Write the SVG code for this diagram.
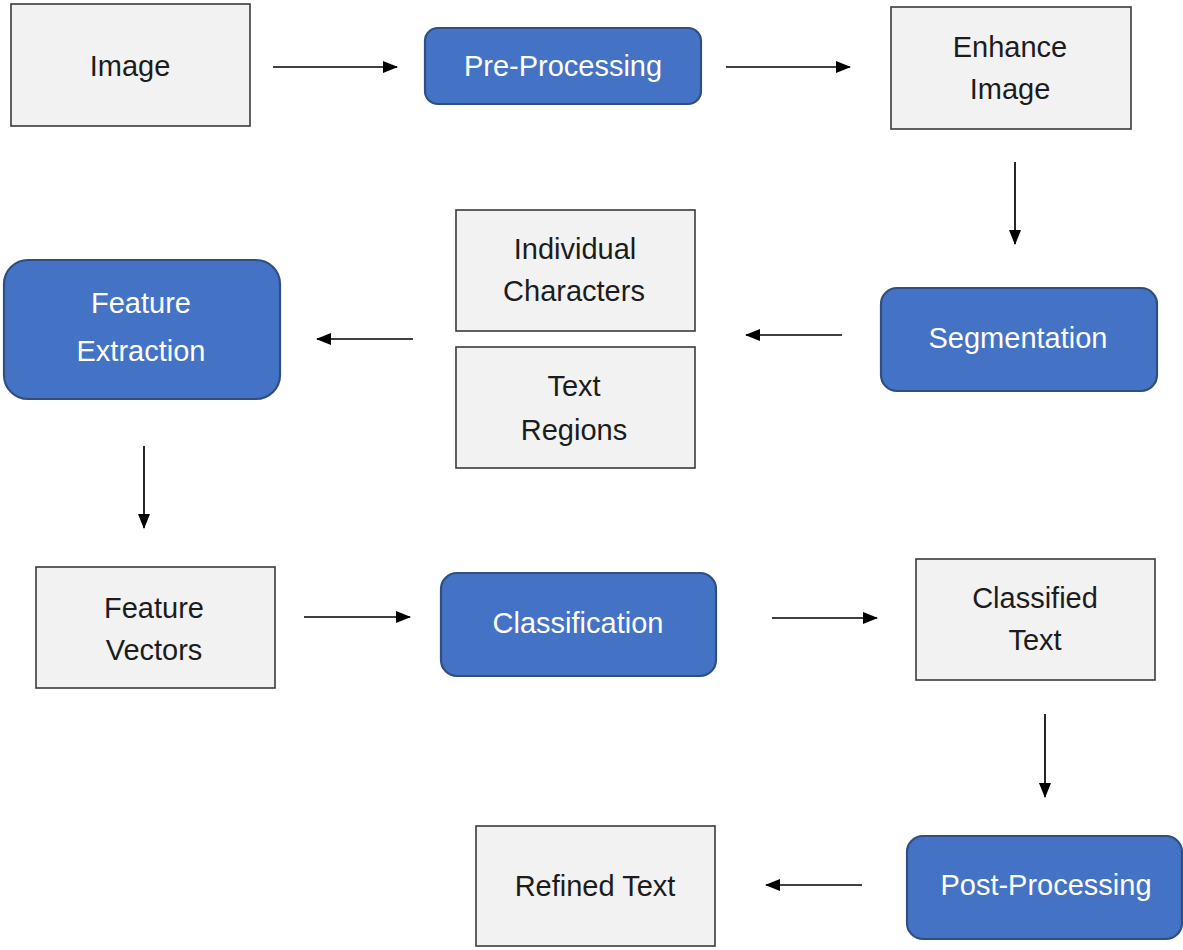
<svg xmlns="http://www.w3.org/2000/svg" width="1183" height="950" viewBox="0 0 1183 950">
<style>
.g{fill:#f2f2f2;stroke:#3a3a3a;stroke-width:1.6}
.b{fill:#4472c4;stroke:#2f4f80;stroke-width:2.2}
.tg{font-family:"Liberation Sans",Arial,sans-serif;font-size:29px;fill:#1c1c1c;text-anchor:middle}
.tb{font-family:"Liberation Sans",Arial,sans-serif;font-size:29px;fill:#ffffff;text-anchor:middle}
.c{stroke:#000;stroke-width:1.7;fill:none;marker-end:url(#ah)}
</style>
<defs>
<marker id="ah" viewBox="0 0 15 12" refX="14" refY="6" markerWidth="15" markerHeight="12" markerUnits="userSpaceOnUse" orient="auto">
<path d="M0,0 L15,6 L0,12 Z" fill="#000"/>
</marker>
</defs>
<rect width="1183" height="950" fill="#fff"/>
<g id="connectors">
<line class="c" x1="273" y1="67" x2="397" y2="67"/>
<line class="c" x1="726" y1="67" x2="850" y2="67"/>
<line class="c" x1="1015" y1="162" x2="1015" y2="244"/>
<line class="c" x1="842" y1="335" x2="746" y2="335"/>
<line class="c" x1="413" y1="339" x2="317" y2="339"/>
<line class="c" x1="144" y1="446" x2="144" y2="528"/>
<line class="c" x1="304" y1="617" x2="410" y2="617"/>
<line class="c" x1="772" y1="618" x2="877" y2="618"/>
<line class="c" x1="1045" y1="714" x2="1045" y2="797"/>
<line class="c" x1="862" y1="885" x2="766" y2="885"/>
</g>
<g id="image">
<rect class="g" x="11" y="4" width="239" height="122"/>
<text class="tg" x="130" y="76">Image</text>
</g>
<g id="pre-processing">
<rect class="b" x="425" y="28" width="276" height="76" rx="13"/>
<text class="tb" x="563" y="76">Pre-Processing</text>
</g>
<g id="enhance-image">
<rect class="g" x="891" y="7" width="240" height="122"/>
<text class="tg" x="1010" y="57">Enhance</text>
<text class="tg" x="1010" y="99">Image</text>
</g>
<g id="segmentation">
<rect class="b" x="881" y="288" width="276" height="103" rx="16"/>
<text class="tb" x="1018" y="348">Segmentation</text>
</g>
<g id="individual-characters">
<rect class="g" x="456" y="210" width="239" height="121"/>
<text class="tg" x="575" y="259">Individual</text>
<text class="tg" x="574" y="301">Characters</text>
</g>
<g id="text-regions">
<rect class="g" x="456" y="347" width="239" height="121"/>
<text class="tg" x="574" y="396">Text</text>
<text class="tg" x="574" y="440">Regions</text>
</g>
<g id="feature-extraction">
<rect class="b" x="4" y="260" width="276" height="139" rx="24"/>
<text class="tb" x="141" y="313">Feature</text>
<text class="tb" x="141" y="361">Extraction</text>
</g>
<g id="feature-vectors">
<rect class="g" x="36" y="567" width="239" height="121"/>
<text class="tg" x="154" y="618">Feature</text>
<text class="tg" x="154" y="660">Vectors</text>
</g>
<g id="classification">
<rect class="b" x="441" y="573" width="275" height="103" rx="16"/>
<text class="tb" x="578" y="633">Classification</text>
</g>
<g id="classified-text">
<rect class="g" x="916" y="559" width="239" height="121"/>
<text class="tg" x="1035" y="608">Classified</text>
<text class="tg" x="1035" y="650">Text</text>
</g>
<g id="post-processing">
<rect class="b" x="907" y="836" width="275" height="103" rx="16"/>
<text class="tb" x="1046" y="895">Post-Processing</text>
</g>
<g id="refined-text">
<rect class="g" x="476" y="826" width="239" height="120"/>
<text class="tg" x="595" y="896">Refined Text</text>
</g>
</svg>
